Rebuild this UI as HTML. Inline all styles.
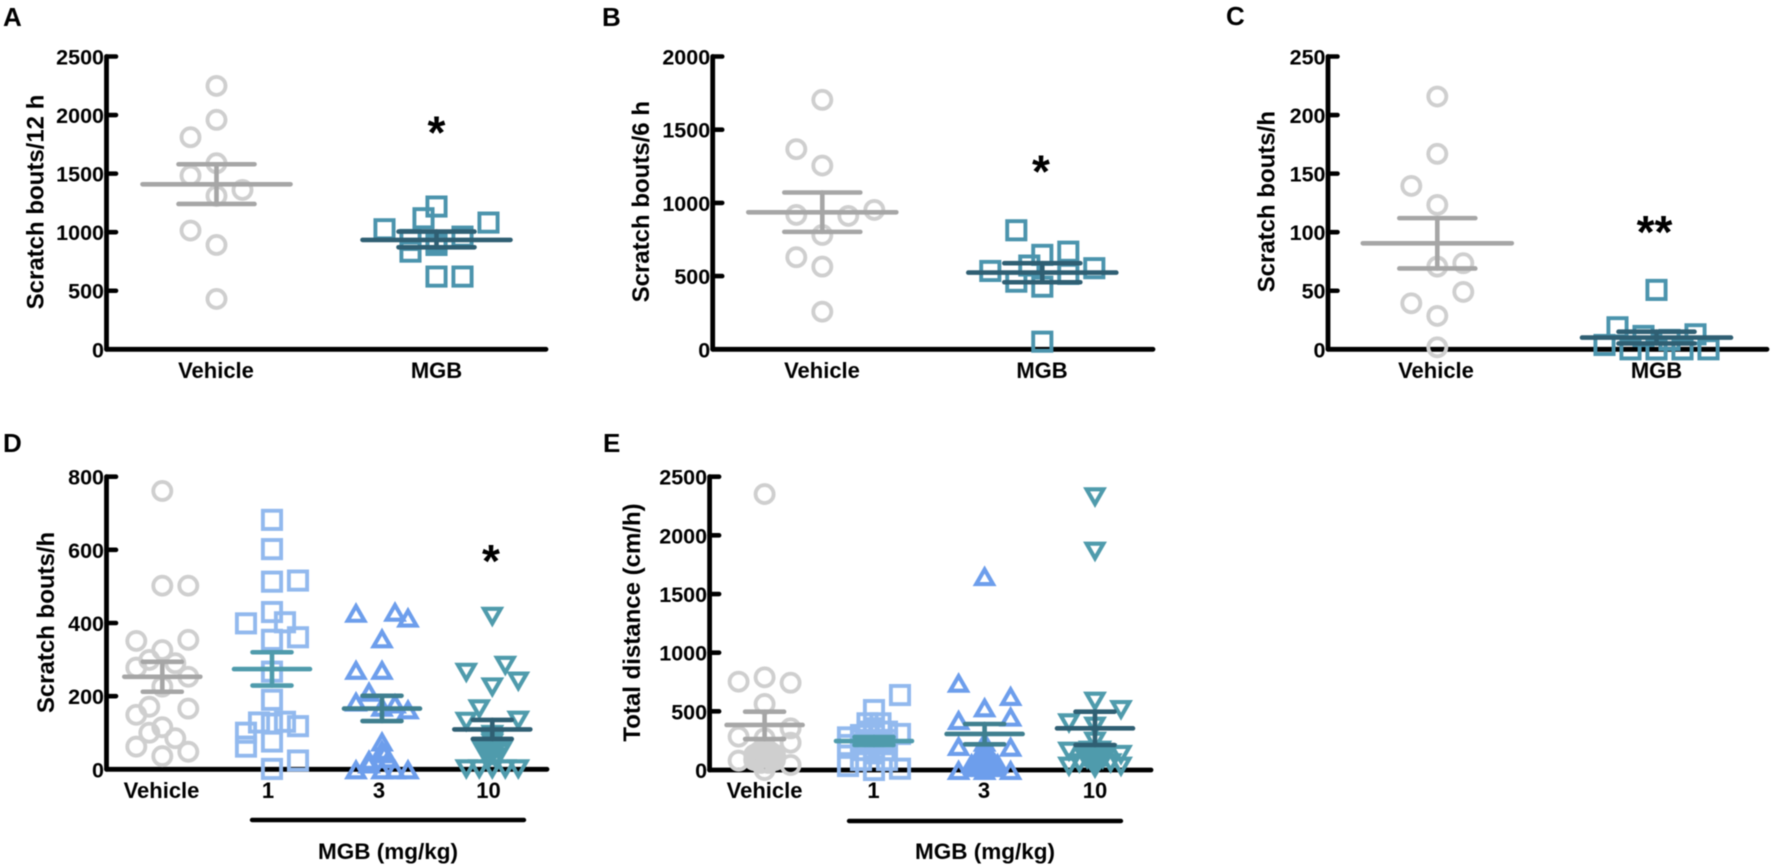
<!DOCTYPE html>
<html>
<head>
<meta charset="utf-8">
<title>Scratch bouts and total distance</title>
<style>
html,body{margin:0;padding:0;background:#fff;}
svg{display:block;filter:blur(0.45px);}
text{font-family:"Liberation Sans",Arial,sans-serif;font-weight:bold;fill:#000;}
</style>
</head>
<body>
<svg id="figure" xmlns="http://www.w3.org/2000/svg" width="1772" height="867" viewBox="0 0 1772 867"></svg>
<script>
// ---------- Panel A ----------
const aTicks = [0, 500, 1000, 1500, 2000, 2500];
const aCategories = ["Vehicle", "MGB"];
const aVehicle = [2249, 1959, 1811, 1589, 1483, 1361, 1310, 1014, 891, 430];
const aVehicleCols = [0, 0, -1, 0, -1, 1, 0, -1, 0, 0];
const aMgb = [1219, 1119, 1082, 1025, 962, 934, 920, 891, 834, 621, 621];
const aMgbCols = [0, -0.5, 2, -2, 1, -1, 0, 0, -1, 0, 1];
const aMeans = [1409, 934];
const aErrLow = [1241, 871];
const aErrHigh = [1580, 1005];
// ---------- Panel B ----------
const bTicks = [0, 500, 1000, 1500, 2000];
const bCategories = ["Vehicle", "MGB"];
const bVehicle = [1704, 1367, 1255, 952, 918, 911, 781, 629, 565, 257];
const bVehicleCols = [0, -1, 0, 2, -1, 1, 0, -1, 0, 0];
const bMgb = [813, 667, 645, 572, 554, 535, 515, 462, 428, 52];
const bMgbCols = [-1, 1, 0, -0.5, 2, -2, 1, -1, 0, 0];
const bMeans = [936, 524];
const bErrLow = [802, 458];
const bErrHigh = [1071, 588];
// ---------- Panel C ----------
const cTicks = [0, 50, 100, 150, 200, 250];
const cCategories = ["Vehicle", "MGB"];
const cVehicle = [215.8, 166.9, 139.5, 123.3, 73.5, 70.6, 49, 39.3, 28.5, 1.7];
const cVehicleCols = [0, 0, -1, 0, 1, 0, 1, -1, 0, 0];
const cMgb = [50.7, 18.8, 12.8, 11.4, 8, 3.7, 0, 0, 0, 0];
const cMgbCols = [0, -1.5, 1.5, -0.5, 0.5, -2, -1, 0, 1, 2];
const cMeans = [90.5, 10];
const cErrLow = [69, 5];
const cErrHigh = [112, 15];
// ---------- Panel D ----------
const dTicks = [0, 200, 400, 600, 800];
const dCategories = ["Vehicle", "1", "3", "10"];
const dVehicle = [761, 502, 502, 351, 354, 326, 299, 290, 278, 253, 226, 171, 149, 166, 115, 100, 85, 62, 48, 36];
const dVehicleCols = [0, 0, 1, -1, 1, 0, -0.5, 0.5, -1, 1, 0, -0.5, -1, 1, 0, -0.5, 0.5, -1, 1, 0];
const dDose1 = [682, 602, 513, 516, 430, 399, 402, 361, 354, 267, 190, 118, 130, 128, 125, 100, 62, 76, 24, 1];
const dDose1Cols = [0, 0, 0, 1, 0, -1, 0.5, 1, 0, 0, 0, 1, 0.5, -0.5, 0, -1, -1, 0, 1, 0];
const dDose3 = [428, 431, 415, 358, 272, 272, 212, 185, 180, 171, 164, 76, 53, 44, 30, 26, 16, 0, 0, 0, 0];
const dDose3Cols = [-1, 0.5, 1, 0, -1, 0, -0.5, -1, 0.5, 0, 1, 0, 0, 0.1, 0.25, -0.5, -0.5, -1, 0, 0.5, 1];
const dDose10 = [417, 283, 264, 240, 224, 164, 130, 133, 94, 76, 70, 60, 60, 50, 50, 44, 44, 39, 36, 32, 26, 26, 0, 0, 0, 0, 0];
const dDose10Cols = [0, 0.5, -1, 1, 0, -0.5, -1, 1, 0, 0, 0, -0.2, 0.2, -0.35, 0.35, -0.3, 0.3, 0, -0.15, 0.15, -0.15, 0.15, -1, -0.5, 0, 0.5, 1];
const dMeans = [253, 274, 166, 109];
const dErrLow = [212, 229, 132, 83];
const dErrHigh = [294, 320, 201, 135];
// ---------- Panel E ----------
const eTicks = [0, 500, 1000, 1500, 2000, 2500];
const eCategories = ["Vehicle", "1", "3", "10"];
const eVehicle = [2352, 790, 753, 744, 563, 284, 355, 233, 270, 80, 43, 0, 185, 128, 128, 114, 156, 156, 71, 85, 85, 170, 170, 140, 140, 110, 110, 90, 90, 60, 60];
const eVehicleCols = [0, 0, -1, 1, 0, -1, 1, 1, 0, -1, 1, 0, 0, -0.4, 0.4, 0, -0.2, 0.2, 0, -0.4, 0.4, -0.1, 0.1, -0.3, 0.3, -0.15, 0.15, -0.25, 0.25, -0.15, 0.15];
const eDose1 = [639, 511, 398, 278, 307, 298, 298, 34, 11, 0, 85, 85, 142, 256, 256, 256, 213, 185, 327, 327, 398, 170, 170, 220, 220];
const eDose1Cols = [1, 0, 0.25, -1, 1, -0.5, 0, -1, 1, 0, -0.5, 0.5, 0, 0, -0.5, 0.5, -1, 0, 0.5, -0.25, -0.25, -0.4, 0.4, -0.4, 0.4];
const eDose3 = [1653, 744, 631, 534, 426, 455, 205, 199, 241, 0, 0, 0, 142, 85, 85, 57, 57, 57, 114, 114, 170, 140, 110, 110, 85, 60, 60, 60, 40, 40, 40, 40, 25, 25];
const eDose3Cols = [0, -1, 1, 0, -1, 1, -1, 1, 0, -1, 1, 0, 0, -0.3, 0.3, 0, -0.5, 0.5, -0.17, 0.17, 0, -0.1, -0.25, 0.25, 0, -0.2, 0.2, 0.4, -0.4, -0.15, 0.15, 0.4, -0.25, 0.25];
const eDose10 = [2324, 1861, 582, 511, 398, 369, 156, 128, 28, 28, 241, 14, 142, 114, 114, 57, 57, 85, 85, 165, 165, 140, 140, 110, 110, 90, 90, 65, 65, 40];
const eDose10Cols = [0, 0, 0, 1, -1, 0, -1, 1, -1, 1, 0, 0, 0, -0.4, 0.4, -0.6, 0.6, -0.2, 0.2, -0.2, 0.2, -0.4, 0.4, -0.1, 0.1, -0.3, 0.3, -0.1, 0.1, 0];
const eMeans = [384, 247, 307, 355];
const eErrLow = [264, 213, 219, 213];
const eErrHigh = [497, 281, 392, 497];

const svg = document.getElementById('figure');
const NS = 'http://www.w3.org/2000/svg';
const GRAY = '#cfcfcf', BAR_GRAY = '#a6a6a6', TEAL = '#4b94ad', DARK = '#2f5f73';
const LIGHT = '#92b9ee', BLUE = '#6d9eec', SEA = '#4f9bac', MID = '#3f7f8f';
const COL = 26;

function shape(parent, tag, attrs) {
  const el = document.createElementNS(NS, tag);
  for (const k in attrs) el.setAttribute(k, attrs[k]);
  parent.appendChild(el);
  return el;
}
function line(parent, x1, y1, x2, y2, stroke, w, name) {
  const el = shape(parent, 'line', {x1: x1, y1: y1, x2: x2, y2: y2, stroke: stroke, 'stroke-width': w, 'stroke-linecap': 'round'});
  
  
  return el;
}
function label(parent, str, x, y, size, anchor, name, rotate) {
  const el = shape(parent, 'text', {x: x, y: y, 'font-size': size, 'text-anchor': anchor});
  if (rotate) el.setAttribute('transform', 'rotate(-90 ' + x + ' ' + y + ')');
  el.textContent = str;
  
  
  return el;
}
function marker(parent, kind, x, y, color, name) {
  let el;
  if (kind === 'circle') {
    el = shape(parent, 'circle', {cx: x, cy: y, r: 9, fill: 'none', stroke: color, 'stroke-width': 3.9});
  } else if (kind === 'square') {
    el = shape(parent, 'rect', {x: x - 9.1, y: y - 9.1, width: 18.2, height: 18.2, fill: 'none', stroke: color, 'stroke-width': 3.9});
  } else if (kind === 'up') {
    el = shape(parent, 'polygon', {points: (x - 8.4) + ',' + (y + 8) + ' ' + (x + 8.4) + ',' + (y + 8) + ' ' + x + ',' + (y - 6.6), fill: 'none', stroke: color, 'stroke-width': 4.1, 'stroke-linejoin': 'miter'});
  } else {
    el = shape(parent, 'polygon', {points: (x - 8.4) + ',' + (y - 8) + ' ' + (x + 8.4) + ',' + (y - 8) + ' ' + x + ',' + (y + 6.6), fill: 'none', stroke: color, 'stroke-width': 4.1, 'stroke-linejoin': 'miter'});
  }
  
  
  return el;
}

function drawPanel(p) {
  const g = shape(svg, 'g', {});
  
  
  const yOf = function (v) { return p.y0 - (v / p.ticks[p.ticks.length - 1]) * (p.y0 - p.yTop); };
  label(g, p.id.toUpperCase(), p.letterX, p.letterY, 26, 'start', 'panel-letter');
  // axes
  line(g, p.ax, p.yTop, p.ax, p.y0, '#000', 4.8, 'y-axis');
  line(g, p.ax, p.y0, p.axEnd, p.y0, '#000', 4.8, 'x-axis');
  p.ticks.forEach(function (t) {
    if (t !== 0) line(g, p.ax, yOf(t), p.ax + 9.5, yOf(t), '#000', 4.6, 'y-tick');
    label(g, String(t), p.ax - 2.5, yOf(t) + 8, 21.5, 'end', 'y-tick-label');
  });
  label(g, p.title, p.titleX, p.titleY, 24, 'middle', 'y-axis-title', true);
  p.cats.forEach(function (c, i) {
    label(g, c, p.labelX[i], p.labelY, 22, 'middle', 'x-tick-label');
  });
  // series
  p.groups.forEach(function (s, i) {
    const cx = p.cx[i];
    const sg = shape(g, 'g', {});
    
    
    s.values.forEach(function (v, j) {
      marker(sg, s.kind, cx + s.cols[j] * COL, yOf(v), s.color, 'data-point');
    });
    const hi = yOf(p.errHigh[i]), lo = yOf(p.errLow[i]), me = yOf(p.means[i]);
    line(sg, cx, hi, cx, lo, s.err, 4.6, 'error-bar');
    line(sg, cx - p.errHalf, hi, cx + p.errHalf, hi, s.err, 4.6, 'error-cap-high');
    line(sg, cx - p.errHalf, lo, cx + p.errHalf, lo, s.err, 4.6, 'error-cap-low');
    line(sg, cx - p.meanHalf, me, cx + p.meanHalf, me, s.mean, 4.6, 'mean-line');
  });
  // significance
  if (p.star) label(g, p.star, p.starX - 2, yOf(p.starValue) + 21, 46, 'middle', 'significance-star');
  // bracket
  if (p.bracket) {
    line(g, p.bracket[0], p.bracketY, p.bracket[1], p.bracketY, '#000', 4.4, 'dose-bracket');
    label(g, 'MGB (mg/kg)', p.bracketLabelX, p.bracketLabelY, 22.5, 'middle', 'dose-axis-title');
  }
}

drawPanel({id: 'a', ticks: aTicks, cats: aCategories, ax: 106.5, axEnd: 546, y0: 349.3, yTop: 56.5,
  letterX: 3, letterY: 26, title: 'Scratch bouts/12 h', titleX: 43.5, titleY: 202,
  cx: [216.5, 436.5], labelX: [216, 436.5], labelY: 378, means: aMeans, errLow: aErrLow, errHigh: aErrHigh,
  meanHalf: 74, errHalf: 38, star: '*', starX: 438.5, starValue: 1895,
  groups: [
    {kind: 'circle', values: aVehicle, cols: aVehicleCols, color: GRAY, mean: BAR_GRAY, err: BAR_GRAY},
    {kind: 'square', values: aMgb, cols: aMgbCols, color: TEAL, mean: DARK, err: DARK}
  ]});
drawPanel({id: 'b', ticks: bTicks, cats: bCategories, ax: 712.7, axEnd: 1153, y0: 349.3, yTop: 56.5,
  letterX: 602, letterY: 26, title: 'Scratch bouts/6 h', titleX: 649, titleY: 201.7,
  cx: [822.3, 1042.3], labelX: [822, 1042], labelY: 378, means: bMeans, errLow: bErrLow, errHigh: bErrHigh,
  meanHalf: 74, errHalf: 38, star: '*', starX: 1043, starValue: 1250,
  groups: [
    {kind: 'circle', values: bVehicle, cols: bVehicleCols, color: GRAY, mean: BAR_GRAY, err: BAR_GRAY},
    {kind: 'square', values: bMgb, cols: bMgbCols, color: TEAL, mean: DARK, err: DARK}
  ]});
drawPanel({id: 'c', ticks: cTicks, cats: cCategories, ax: 1328, axEnd: 1767, y0: 349.3, yTop: 56.5,
  letterX: 1226, letterY: 25, title: 'Scratch bouts/h', titleX: 1274.4, titleY: 201.7,
  cx: [1437.3, 1656.5], labelX: [1436, 1656.5], labelY: 378, means: cMeans, errLow: cErrLow, errHigh: cErrHigh,
  meanHalf: 74.5, errHalf: 38, star: '**', starX: 1656.5, starValue: 104.5,
  groups: [
    {kind: 'circle', values: cVehicle, cols: cVehicleCols, color: GRAY, mean: BAR_GRAY, err: BAR_GRAY},
    {kind: 'square', values: cMgb, cols: cMgbCols, color: TEAL, mean: DARK, err: DARK}
  ]});
drawPanel({id: 'd', ticks: dTicks, cats: dCategories, ax: 106.5, axEnd: 547, y0: 769.3, yTop: 476.7,
  letterX: 3, letterY: 452, title: 'Scratch bouts/h', titleX: 54, titleY: 622.5,
  cx: [162.3, 272, 382, 492.3], labelX: [161.5, 268, 379, 488.5], labelY: 798, means: dMeans, errLow: dErrLow, errHigh: dErrHigh,
  meanHalf: 38, errHalf: 19.5, star: '*', starX: 493, starValue: 583,
  bracket: [252, 524], bracketY: 820, bracketLabelX: 388, bracketLabelY: 859,
  groups: [
    {kind: 'circle', values: dVehicle, cols: dVehicleCols, color: GRAY, mean: BAR_GRAY, err: BAR_GRAY},
    {kind: 'square', values: dDose1, cols: dDose1Cols, color: LIGHT, mean: SEA, err: SEA},
    {kind: 'up', values: dDose3, cols: dDose3Cols, color: BLUE, mean: MID, err: MID},
    {kind: 'down', values: dDose10, cols: dDose10Cols, color: SEA, mean: DARK, err: DARK}
  ]});
drawPanel({id: 'e', ticks: eTicks, cats: eCategories, ax: 709.6, axEnd: 1151, y0: 770, yTop: 476.7,
  letterX: 603, letterY: 452, title: 'Total distance (cm/h)', titleX: 640, titleY: 622.5,
  cx: [764.6, 874, 984.6, 1095], labelX: [764.6, 873.5, 984, 1095], labelY: 798, means: eMeans, errLow: eErrLow, errHigh: eErrHigh,
  meanHalf: 38, errHalf: 19.5, star: '', starX: 0, starValue: 0,
  bracket: [849, 1121], bracketY: 821, bracketLabelX: 985, bracketLabelY: 859,
  groups: [
    {kind: 'circle', values: eVehicle, cols: eVehicleCols, color: GRAY, mean: BAR_GRAY, err: BAR_GRAY},
    {kind: 'square', values: eDose1, cols: eDose1Cols, color: LIGHT, mean: SEA, err: SEA},
    {kind: 'up', values: eDose3, cols: eDose3Cols, color: BLUE, mean: MID, err: MID},
    {kind: 'down', values: eDose10, cols: eDose10Cols, color: SEA, mean: DARK, err: DARK}
  ]});
</script>
</body>
</html>
